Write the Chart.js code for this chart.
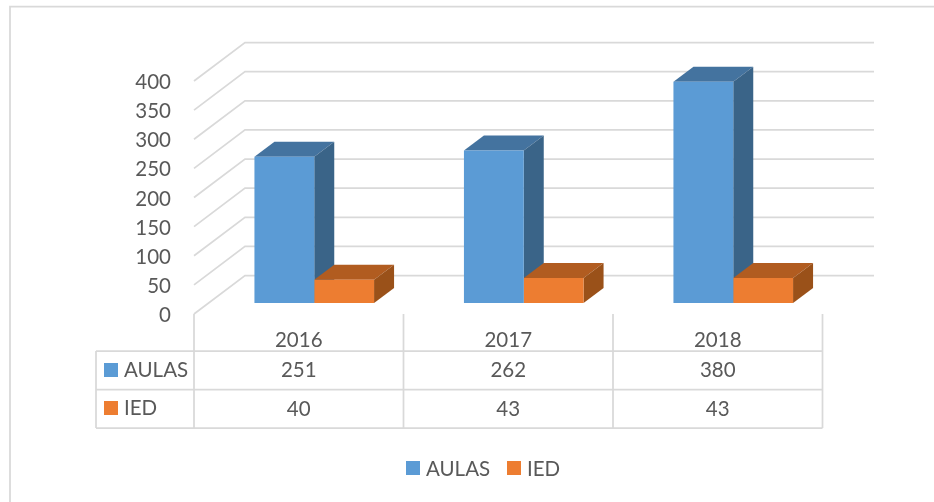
<!DOCTYPE html>
<html>
<head>
<meta charset="utf-8">
<style>
  html, body { margin: 0; padding: 0; background: #fff; }
  canvas { display: block; }
</style>
<script src="https://cdn.jsdelivr.net/npm/chart.js@4"></script>
</head>
<body>
<canvas id="myChart" width="934" height="502"></canvas>
<script>
const years = ['2016', '2017', '2018']
const aulas = [251, 262, 380]
const ied = [40, 43, 43]

const blue = { front: '#5B9BD5', top: '#44739F', side: '#3A6488' }
const orange = { front: '#ED7D31', top: '#B15C20', side: '#9A5119' }
const gridColor = '#D9D9D9'
const textColor = '#595959'
const textFont = '20.5px Lato'
const textDrop = 1.5 // Lato sits high on a middle baseline

// the bars stand a bit behind the front plane of the axes
const barShift = { x: 15.5, y: -11 }
const barDepth = { x: 20, y: -15 }
const wallDepth = { x: 51, y: -38.5 }

const line = (ctx, points) => {
    ctx.beginPath()
    points.forEach((p, i) => i ? ctx.lineTo(p[0], p[1]) : ctx.moveTo(p[0], p[1]))
    ctx.stroke()
}

const face = (ctx, points, color) => {
    ctx.fillStyle = color
    ctx.beginPath()
    points.forEach((p, i) => i ? ctx.lineTo(p[0], p[1]) : ctx.moveTo(p[0], p[1]))
    ctx.closePath()
    ctx.fill()
}

const key = (ctx, x, y, color, label, drop) => {
    ctx.fillStyle = color
    ctx.fillRect(x, Math.floor(y) - 7, 14, 14)
    ctx.fillStyle = textColor
    ctx.textAlign = 'left'
    ctx.fillText(label, x + 20, y + drop)
}

const walls = {
    id: 'walls',
    beforeDatasetsDraw(chart) {
        const ctx = chart.ctx
        const yScale = chart.scales.y
        const left = chart.scales.x.left
        ctx.save()
        // chart border, cut by the picture on the right and at the bottom
        ctx.strokeStyle = gridColor
        ctx.lineWidth = 1.75
        line(ctx, [[10, 502], [10, 6.5], [934, 6.5]])
        ctx.font = textFont
        ctx.textBaseline = 'middle'
        ctx.textAlign = 'right'
        yScale.ticks.forEach((tick) => {
            const y = yScale.getPixelForValue(tick.value)
            line(ctx, [[left, y], [left + wallDepth.x, y + wallDepth.y], [874, y + wallDepth.y]])
            ctx.fillStyle = textColor
            ctx.fillText(tick.label, left - 23, y + textDrop)
        })
        ctx.restore()
        ctx.save()
        ctx.translate(barShift.x, barShift.y)
        // top and side of every bar, AULAS first so the IED top lies over its side
        chart.data.datasets.forEach((ds, d) => {
            chart.getDatasetMeta(d).data.forEach((bar) => {
                const l = bar.x - bar.width / 2
                const r = bar.x + bar.width / 2
                const dx = barDepth.x
                const dy = barDepth.y
                face(ctx, [[l, bar.y], [l + dx, bar.y + dy], [r + dx, bar.y + dy], [r, bar.y]], ds.faces.top)
                face(ctx, [[r, bar.y], [r + dx, bar.y + dy], [r + dx, bar.base + dy], [r, bar.base]], ds.faces.side)
            })
        })
    },
    afterDatasetsDraw(chart) {
        const ctx = chart.ctx
        ctx.restore()

        // data table under the axis
        const xScale = chart.scales.x
        const band = xScale.getPixelForTick(1) - xScale.getPixelForTick(0)
        const rows = [351, 389.5, 428]
        const tableLeft = 96
        const axisY = chart.scales.y.bottom
        ctx.save()
        ctx.strokeStyle = gridColor
        ctx.lineWidth = 1.75
        rows.forEach((y) => line(ctx, [[tableLeft, y], [xScale.right, y]]))
        line(ctx, [[tableLeft, rows[0]], [tableLeft, rows[2]]])
        for (let i = 0; i <= years.length; i++) {
            const x = xScale.left + i * band
            line(ctx, [[x, axisY], [x, rows[2]]])
        }
        ctx.font = textFont
        ctx.textBaseline = 'middle'
        chart.data.datasets.forEach((ds, d) => {
            const y = (rows[d] + rows[d + 1]) / 2
            key(ctx, 104, y, ds.backgroundColor, ds.label, 0)
            ctx.textAlign = 'center'
            ds.data.forEach((value, i) => {
                ctx.fillText(String(value), xScale.getPixelForTick(i), y + 0.5)
            })
        })

        // legend at the bottom
        key(ctx, 406, 468, chart.data.datasets[0].backgroundColor, chart.data.datasets[0].label, textDrop)
        key(ctx, 507, 468, chart.data.datasets[1].backgroundColor, chart.data.datasets[1].label, textDrop)
        ctx.restore()
    }
}

window.onload = function() {
    const ctx = document.getElementById('myChart').getContext('2d')
    const config = {
        type: 'bar',
        data: {
            labels: years,
            datasets: [
                { label: 'AULAS', data: aulas, backgroundColor: blue.front, faces: blue, clip: false },
                { label: 'IED', data: ied, backgroundColor: orange.front, faces: orange, clip: false }
            ]
        },
        options: {
            responsive: false,
            animation: false,
            layout: { padding: { left: 0, right: 111.5, top: 81, bottom: 0 } },
            datasets: { bar: { categoryPercentage: 0.571, barPercentage: 1 } },
            plugins: { legend: { display: false }, tooltip: { enabled: false } },
            scales: {
                x: {
                    grid: { display: false, drawTicks: false },
                    border: { display: false },
                    afterFit: (scale) => { scale.height = 188 },
                    ticks: { color: textColor, font: { family: 'Lato', size: 20.5 }, padding: 14, maxRotation: 0 }
                },
                y: {
                    min: 0,
                    max: 400,
                    grid: { display: false, drawTicks: false },
                    border: { display: false },
                    afterFit: (scale) => { scale.width = 194 },
                    // labels are drawn with the walls, 1.5px lower than the library would
                    ticks: { stepSize: 50, display: false }
                }
            }
        },
        plugins: [walls]
    }
    new Chart(ctx, config)
}
</script>
</body>
</html>
